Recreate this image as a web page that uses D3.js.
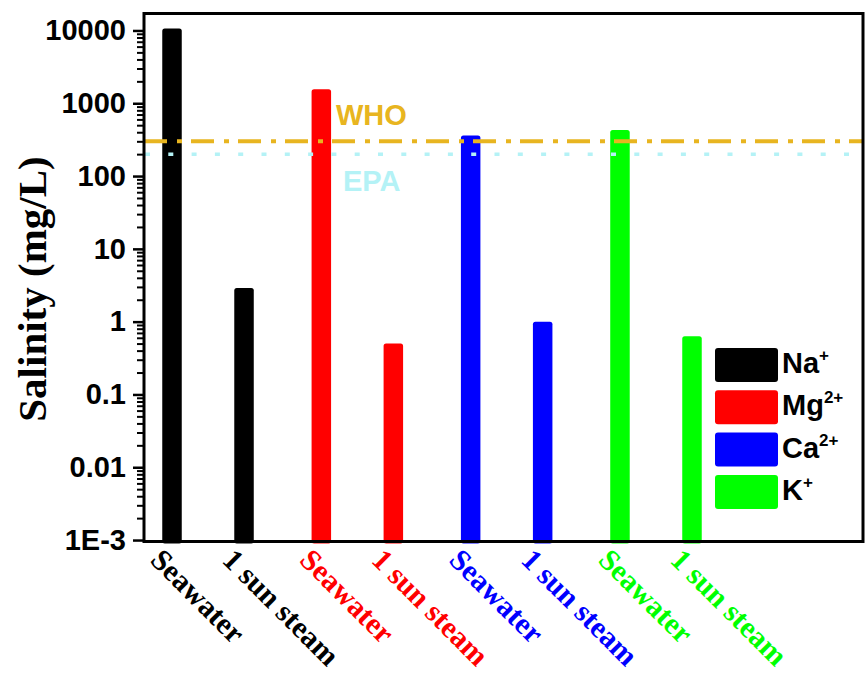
<!DOCTYPE html>
<html>
<head>
<meta charset="utf-8">
<script src="https://cdn.jsdelivr.net/npm/d3@7"></script>
<style>
  html, body { margin: 0; padding: 0; background: #ffffff; }
  svg { display: block; }
</style>
</head>
<body>
<svg id="chart" width="866" height="677"></svg>
<script>
// ---------------- data ----------------
const ions = ["Na", "Mg", "Ca", "K"];
const ionCharges = ["+", "2+", "2+", "+"];
const conditions = ["Seawater", "1 sun steam"];
const seawaterValues = [10600, 1560, 360, 430];
const steamValues = [2.9, 0.5, 1.0, 0.63];
const ionColors = ["#000000", "#ff0000", "#0000ff", "#00ff00"];
const yTickValues = [1e-3, 0.01, 0.1, 1, 10, 100, 1000, 10000];
const yTickLabels = ["1E-3", "0.01", "0.1", "1", "10", "100", "1000", "10000"];
const guideNames = ["WHO", "EPA"];
const guideValues = [300, 200];
const guideColors = ["#e8b520", "#b4f2f6"];

// ---------------- layout ----------------
const svg = d3.select("#chart");
const plot = { left: 144, right: 863, top: 13.5, bottom: 541.5 };
const sansBold = "'Liberation Sans', Arial, sans-serif";
const serifBold = "'Liberation Serif', 'Times New Roman', serif";

const y = d3.scaleLog()
  .domain([Math.pow(10, -3.02), Math.pow(10, 4.233)])
  .range([plot.bottom, plot.top]);

const xGroup = d3.scaleBand()
  .domain(ions)
  .range([136, 728])
  .paddingInner(0.0355)
  .paddingOuter(0);
const xInner = d3.scalePoint()
  .domain(conditions)
  .range([xGroup.bandwidth() * 0.25, xGroup.bandwidth() * 0.75]);

const barWidth = 19.5;

const bars = [];
ions.forEach((ion, i) => {
  bars.push({ ion, cond: conditions[0], value: seawaterValues[i], color: ionColors[i] });
  bars.push({ ion, cond: conditions[1], value: steamValues[i], color: ionColors[i] });
});
const cx = d => xGroup(d.ion) + xInner(d.cond);

// ---------------- bars ----------------
svg.append("g").selectAll("rect")
  .data(bars)
  .join("rect")
  .attr("x", d => cx(d) - barWidth / 2)
  .attr("y", d => y(d.value))
  .attr("width", barWidth)
  .attr("height", d => plot.bottom + 2 - y(d.value))
  .attr("rx", 2.5)
  .attr("fill", d => d.color);

// ---------------- guide lines ----------------
const guides = svg.append("g");
guides.append("line")
  .attr("x1", plot.left).attr("x2", plot.right)
  .attr("y1", y(guideValues[0])).attr("y2", y(guideValues[0]))
  .attr("stroke", guideColors[0])
  .attr("stroke-width", 4)
  .attr("stroke-dasharray", "23,10,5,9");
guides.append("line")
  .attr("x1", plot.left + 1).attr("x2", plot.right)
  .attr("y1", y(guideValues[1])).attr("y2", y(guideValues[1]))
  .attr("stroke", guideColors[1])
  .attr("stroke-width", 3.5)
  .attr("stroke-dasharray", "5,18.3");

guides.append("text")
  .attr("x", 336).attr("y", y(guideValues[0]) - 16)
  .attr("font-family", sansBold).attr("font-weight", "bold").attr("font-size", 29)
  .attr("fill", guideColors[0])
  .text(guideNames[0]);
guides.append("text")
  .attr("x", 343).attr("y", y(guideValues[1]) + 37)
  .attr("font-family", sansBold).attr("font-weight", "bold").attr("font-size", 29)
  .attr("fill", guideColors[1])
  .text(guideNames[1]);

// ---------------- y axis ----------------
const yAxis = d3.axisLeft(y)
  .tickValues(yTickValues)
  .tickFormat((d, i) => yTickLabels[i])
  .tickSize(11)
  .tickPadding(7);
const gy = svg.append("g")
  .attr("transform", `translate(${plot.left},0)`)
  .call(yAxis);
gy.select(".domain").remove();
gy.selectAll(".tick line").attr("stroke", "#000").attr("stroke-width", 2.5);
gy.selectAll(".tick text")
  .attr("font-family", sansBold)
  .attr("font-weight", "bold")
  .attr("font-size", 29)
  .attr("fill", "#000");

const minorValues = [];
for (let e = -3; e < 4; e++) {
  for (let m = 2; m <= 9; m++) minorValues.push(m * Math.pow(10, e));
}
const gyMinor = svg.append("g")
  .attr("transform", `translate(${plot.left},0)`)
  .call(d3.axisLeft(y).tickValues(minorValues).tickFormat("").tickSize(7));
gyMinor.select(".domain").remove();
gyMinor.selectAll(".tick line").attr("stroke", "#000").attr("stroke-width", 2);

// ---------------- frame ----------------
svg.append("rect")
  .attr("x", plot.left).attr("y", plot.top)
  .attr("width", plot.right - plot.left)
  .attr("height", plot.bottom - plot.top)
  .attr("fill", "none")
  .attr("stroke", "#000")
  .attr("stroke-width", 3);

// ---------------- x labels ----------------
svg.append("g").selectAll("text")
  .data(bars)
  .join("text")
  .attr("transform", d => `translate(${cx(d) - 23},${plot.bottom + 20}) rotate(45)`)
  .attr("font-family", serifBold)
  .attr("font-weight", "bold")
  .attr("font-size", 30)
  .attr("fill", d => d.color)
  .text(d => d.cond);

// ---------------- y title ----------------
svg.append("text")
  .attr("transform", `translate(46,289) rotate(-90)`)
  .attr("text-anchor", "middle")
  .attr("font-family", serifBold)
  .attr("font-weight", "bold")
  .attr("font-size", 41)
  .attr("fill", "#000")
  .text("Salinity (mg/L)");

// ---------------- legend ----------------
const legend = svg.append("g");
const legendItems = legend.selectAll("g")
  .data(ions)
  .join("g")
  .attr("transform", (d, i) => `translate(715,${348 + i * 42.3})`);
legendItems.append("rect")
  .attr("width", 63).attr("height", 34).attr("rx", 3)
  .attr("fill", (d, i) => ionColors[i]);
const lt = legendItems.append("text")
  .attr("x", 67).attr("y", 25)
  .attr("font-family", sansBold)
  .attr("font-weight", "bold")
  .attr("font-size", 29)
  .attr("fill", "#000");
lt.append("tspan").text(d => d);
lt.append("tspan")
  .attr("font-size", 17)
  .attr("dy", -12)
  .text((d, i) => ionCharges[i]);
</script>
</body>
</html>
